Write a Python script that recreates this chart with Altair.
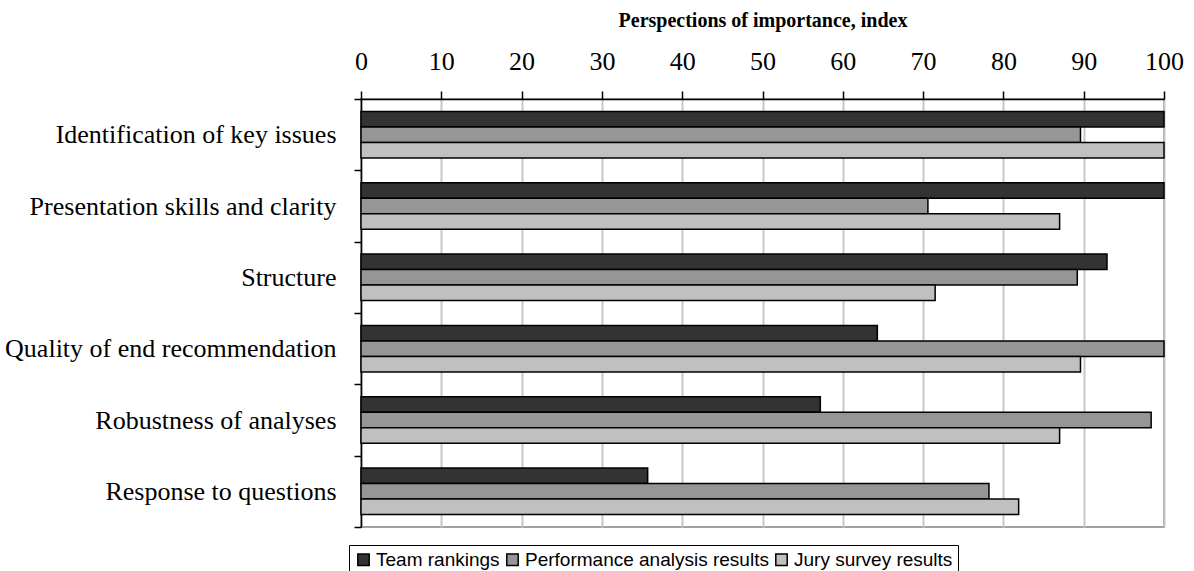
import altair as alt
import pandas as pd

# Criteria (top to bottom) and the three series compared for each
categories = [
    "Identification of key issues",
    "Presentation skills and clarity",
    "Structure",
    "Quality of end recommendation",
    "Robustness of analyses",
    "Response to questions",
]
series = ["Team rankings", "Performance analysis results", "Jury survey results"]

team_rankings = [100, 100, 92.9, 64.3, 57.2, 35.7]
performance_analysis = [89.6, 70.6, 89.2, 100, 98.4, 78.2]
jury_survey = [100, 87.0, 71.5, 89.6, 87.0, 81.9]

series_colors = ["#333333", "#969696", "#c0c0c0"]
x_ticks = list(range(0, 101, 10))

rows = []
for name, values in zip(series, [team_rankings, performance_analysis, jury_survey]):
    for cat, v in zip(categories, values):
        rows.append({"category": cat, "series": name, "value": v})
df = pd.DataFrame(rows)

serif = "Liberation Serif"
sans = "Liberation Sans"

bars = alt.Chart(df).mark_bar(stroke="black", strokeWidth=1.5).encode(
    x=alt.X(
        "value:Q",
        scale=alt.Scale(domain=[0, 100], nice=False, zero=True),
        axis=alt.Axis(
            orient="top",
            values=x_ticks,
            title="Perspections of importance, index",
            titleFont=serif,
            titleFontSize=20,
            titleFontWeight="bold",
            titleColor="black",
            titlePadding=18,
            labelFont=serif,
            labelFontSize=26,
            labelColor="black",
            labelPadding=17,
            labelFlush=False,
            tickSize=8,
            tickColor="black",
            tickWidth=1.5,
            domainColor="black",
            domainWidth=1.5,
            grid=True,
            gridColor="#c8c8c8",
            gridWidth=2,
        ),
    ),
    y=alt.Y(
        "category:N",
        sort=categories,
        scale=alt.Scale(paddingInner=0, paddingOuter=0),
        axis=alt.Axis(
            title=None,
            tickBand="extent",
            tickSize=7,
            tickColor="black",
            tickWidth=1.5,
            domainColor="black",
            domainWidth=1.5,
            labelFont=serif,
            labelFontSize=26,
            labelColor="black",
            labelPadding=18,
            labelLimit=400,
            grid=False,
        ),
    ),
    yOffset=alt.YOffset(
        "series:N",
        sort=series,
        scale=alt.Scale(paddingInner=0, paddingOuter=0.8),
    ),
    color=alt.Color(
        "series:N",
        sort=series,
        scale=alt.Scale(domain=series, range=series_colors),
        legend=alt.Legend(
            title=None,
            orient="none",
            legendX=-12,
            legendY=446,
            direction="horizontal",
            strokeColor="black",
            fillColor="white",
            padding=5,
            cornerRadius=0,
            symbolType="square",
            symbolSize=130,
            symbolStrokeColor="black",
            symbolStrokeWidth=1.5,
            symbolOpacity=1,
            labelFont=sans,
            labelFontSize=19,
            labelColor="black",
            labelOffset=3,
            columnPadding=3,
            labelLimit=400,
        ),
    ),
)

chart = bars.properties(
    width=803,
    height=428,
    autosize=alt.AutoSizeParams(type="none"),
    padding={"left": 361, "top": 99, "right": 30, "bottom": 44},
    background="white",
).configure_view(stroke="#a0a0a0", strokeWidth=2)

chart.save("out.html", embed_options={"renderer": "svg", "actions": False})
